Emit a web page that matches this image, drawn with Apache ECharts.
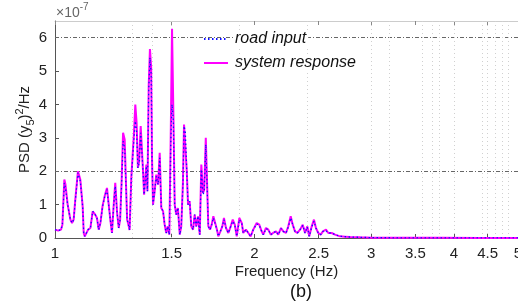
<!DOCTYPE html>
<html>
<head>
<meta charset="utf-8">
<script src="https://cdn.jsdelivr.net/npm/echarts@6/dist/echarts.min.js"></script>
<style>
  html, body { margin: 0; padding: 0; background: #fff; }
  #chart { width: 518px; height: 307px; }
</style>
</head>
<body>
<div id="chart"></div>
<script>
// frequency (Hz) of each sample
var freq = [1.000, 1.011, 1.021, 1.026, 1.033, 1.037, 1.045, 1.055, 1.061, 1.067,
  1.073, 1.083, 1.092, 1.101, 1.105, 1.109, 1.122, 1.131, 1.140, 1.150,
  1.157, 1.164, 1.171, 1.180, 1.189, 1.198, 1.205, 1.212, 1.219, 1.226,
  1.233, 1.241, 1.248, 1.254, 1.260, 1.267, 1.274, 1.280, 1.285, 1.289,
  1.296, 1.304, 1.316, 1.322, 1.328, 1.334, 1.340, 1.347, 1.353, 1.358,
  1.363, 1.369, 1.374, 1.379, 1.385, 1.391, 1.397, 1.401, 1.406, 1.414,
  1.422, 1.431, 1.439, 1.447, 1.456, 1.464, 1.472, 1.480, 1.488, 1.495,
  1.502, 1.509, 1.516, 1.524, 1.533, 1.543, 1.551, 1.560, 1.566, 1.573,
  1.581, 1.588, 1.597, 1.606, 1.616, 1.625, 1.634, 1.644, 1.654, 1.663,
  1.673, 1.680, 1.689, 1.696, 1.704, 1.714, 1.724, 1.734, 1.744, 1.756,
  1.764, 1.777, 1.789, 1.799, 1.812, 1.827, 1.842, 1.855, 1.868, 1.881,
  1.898, 1.914, 1.924, 1.942, 1.958, 1.974, 1.992, 2.016, 2.034, 2.051,
  2.063, 2.082, 2.099, 2.117, 2.134, 2.156, 2.173, 2.194, 2.211, 2.232,
  2.250, 2.269, 2.285, 2.303, 2.322, 2.344, 2.366, 2.385, 2.404, 2.420,
  2.441, 2.460, 2.477, 2.497, 2.518, 2.538, 2.565, 2.586, 2.616, 2.647,
  2.693, 2.740, 2.790, 2.890, 3.010, 3.320, 3.810, 4.380, 5.000];

// system response PSD, x 1e-7
var response = [0.25, 0.22, 0.25, 0.40, 1.75, 1.60, 1.00, 0.55, 0.45, 0.55,
  1.14, 2.00, 1.75, 0.94, 0.15, 0.05, 0.25, 0.30, 0.80, 0.70,
  0.60, 0.25, 0.45, 0.97, 1.27, 1.50, 1.50, 0.55, 0.15, 0.95,
  1.65, 0.75, 0.30, 0.55, 1.60, 3.15, 2.95, 1.60, 0.55, 0.45,
  0.24, 1.85, 3.15, 4.00, 3.45, 2.10, 2.30, 3.35, 3.35, 2.00,
  1.30, 1.80, 2.20, 1.40, 4.55, 5.66, 5.10, 2.40, 1.00, 1.40,
  1.90, 1.60, 2.55, 0.90, 0.80, 0.40, 0.15, 0.35, 0.10, 2.95,
  6.27, 3.75, 1.00, 0.70, 0.90, 0.10, 0.35, 1.65, 3.40, 3.35,
  2.00, 1.00, 1.10, 0.35, 0.25, 0.70, 0.35, 0.65, 0.10, 2.20,
  1.35, 1.45, 3.00, 1.75, 0.35, 0.25, 0.40, 0.65, 0.70, 0.25,
  0.05, 0.20, 0.35, 0.60, 0.30, 0.15, 0.35, 0.55, 0.40, 0.05,
  0.60, 0.45, 0.15, 0.25, 0.15, 0.05, 0.25, 0.45, 0.40, 0.20,
  0.10, 0.30, 0.25, 0.10, 0.15, 0.20, 0.10, 0.30, 0.20, 0.15,
  0.35, 0.65, 0.40, 0.20, 0.15, 0.25, 0.40, 0.15, 0.35, 0.05,
  0.35, 0.55, 0.30, 0.15, 0.10, 0.20, 0.25, 0.15, 0.15, 0.10,
  0.05, 0.04, 0.03, 0.02, 0.01, 0.005, 0.004, 0.003, 0.003];

// road input PSD, x 1e-7
var roadInput = [0.25, 0.22, 0.25, 0.40, 1.65, 1.50, 1.00, 0.55, 0.45, 0.55,
  1.10, 1.95, 1.70, 0.94, 0.15, 0.05, 0.25, 0.30, 0.80, 0.70,
  0.60, 0.25, 0.45, 0.95, 1.25, 1.45, 1.45, 0.55, 0.15, 0.95,
  1.55, 0.75, 0.30, 0.55, 1.50, 2.90, 2.70, 1.55, 0.55, 0.45,
  0.24, 1.80, 3.00, 3.50, 3.20, 2.10, 2.25, 3.15, 3.10, 2.00,
  1.30, 1.75, 2.15, 1.40, 4.40, 5.40, 4.90, 2.40, 1.00, 1.40,
  1.85, 1.60, 2.40, 0.90, 0.80, 0.40, 0.15, 0.35, 0.10, 2.80,
  4.00, 3.50, 1.00, 0.70, 0.90, 0.10, 0.35, 1.60, 3.35, 3.20,
  2.00, 1.00, 1.10, 0.35, 0.25, 0.70, 0.35, 0.65, 0.10, 2.05,
  1.30, 1.40, 2.80, 1.70, 0.35, 0.25, 0.40, 0.60, 0.65, 0.25,
  0.05, 0.20, 0.35, 0.55, 0.30, 0.15, 0.35, 0.50, 0.40, 0.05,
  0.55, 0.45, 0.15, 0.25, 0.15, 0.05, 0.25, 0.42, 0.38, 0.20,
  0.10, 0.28, 0.25, 0.10, 0.15, 0.20, 0.10, 0.28, 0.20, 0.15,
  0.33, 0.60, 0.40, 0.20, 0.15, 0.25, 0.38, 0.15, 0.33, 0.05,
  0.33, 0.50, 0.30, 0.15, 0.10, 0.20, 0.22, 0.15, 0.15, 0.10,
  0.05, 0.04, 0.03, 0.02, 0.01, 0.005, 0.004, 0.003, 0.003];

var xTicks = [1, 1.5, 2, 2.5, 3, 3.5, 4, 4.5, 5];
var hGrid = [2, 6];
var vGrid = [1.307, 1.396, 1.5, 1.896, 2.4, 3.0, 3.2, 3.59, 3.71, 3.8, 4.0, 4.41, 4.5, 4.62, 4.73, 4.83];

function pairs(vals) {
  return freq.map(function (f, i) { return [f, vals[i]]; });
}

var font = '"Liberation Sans", Arial, sans-serif';
var chart = echarts.init(document.getElementById('chart'), null, { renderer: 'canvas' });

var gridLines = hGrid.map(function (v) {
  return { yAxis: v, lineStyle: { color: '#666', type: [4, 2, 1, 2], width: 1 } };
}).concat(vGrid.map(function (f) {
  return { xAxis: f, lineStyle: { color: '#d0d0d0', type: [1, 3], width: 1 } };
}));

var option = {
  animation: false,
  textStyle: { fontFamily: font },
  grid: { left: 55, right: 0, top: 21, bottom: 69, outerBoundsMode: 'none' },
  legend: {
    orient: 'vertical',
    left: 203,
    top: 31,
    itemWidth: 24,
    itemHeight: 10,
    itemGap: 8,
    padding: 0,
    itemStyle: { opacity: 0 },
    textStyle: { fontSize: 16, fontStyle: 'italic', color: '#111', fontFamily: font, backgroundColor: '#fff', padding: [0, 2] },
    data: ['road input', 'system response']
  },
  xAxis: [{
    type: 'log',
    logBase: 10,
    min: 1,
    max: 5,
    name: 'Frequency (Hz)',
    nameLocation: 'middle',
    nameGap: 26,
    nameMoveOverlap: false,
    nameTextStyle: { fontSize: 15, color: '#222' },
    axisLine: { lineStyle: { color: '#555' } },
    axisTick: { inside: true, length: 4, customValues: xTicks, lineStyle: { color: '#555' } },
    axisLabel: { customValues: xTicks, fontSize: 15, color: '#222', margin: 8 },
    splitLine: { show: false },
    minorTick: { show: false }
  }, {
    type: 'log',
    logBase: 10,
    min: 1,
    max: 5,
    position: 'top',
    axisLine: { lineStyle: { color: '#ccc' } },
    axisTick: { inside: true, length: 4, customValues: xTicks, lineStyle: { color: '#888' } },
    axisLabel: { show: false },
    splitLine: { show: false }
  }],
  yAxis: {
    type: 'value',
    min: 0,
    max: 6.5,
    interval: 1,
    name: '{a|PSD (y}{s|5}{a|)}{p|2}{a|/Hz}',
    nameLocation: 'middle',
    nameGap: 19,
    nameMoveOverlap: false,
    nameTextStyle: {
      rich: {
        a: { fontSize: 15, color: '#222', fontFamily: font, lineHeight: 22 },
        s: { fontSize: 11, color: '#222', fontFamily: font, verticalAlign: 'bottom', lineHeight: 22 },
        p: { fontSize: 11, color: '#222', fontFamily: font, verticalAlign: 'top', lineHeight: 22 }
      }
    },
    axisLine: { show: true, lineStyle: { color: '#555' } },
    axisTick: { show: true, inside: true, length: 4, lineStyle: { color: '#555' } },
    axisLabel: { fontSize: 15, color: '#222', margin: 8, showMaxLabel: false },
    splitLine: { show: false }
  },
  series: [{
    name: 'system response',
    type: 'line',
    data: pairs(response),
    symbol: 'none',
    z: 2,
    lineStyle: { color: '#ff00ff', width: 2 },
    itemStyle: { color: '#ff00ff' },
    markLine: {
      silent: true,
      symbol: 'none',
      label: { show: false },
      z: 1,
      data: gridLines
    }
  }, {
    name: 'road input',
    type: 'line',
    data: pairs(roadInput),
    symbol: 'none',
    z: 3,
    lineStyle: { color: '#1010ff', width: 1.3, type: [1.5, 2.5] },
    itemStyle: { color: '#1010ff' }
  }],
  graphic: [{
    type: 'text',
    left: 56,
    top: 2,
    style: {
      text: '{a|×10}{b|-7}',
      rich: {
        a: { fontSize: 14, fill: '#666', fontFamily: font, lineHeight: 18, verticalAlign: 'bottom' },
        b: { fontSize: 10, fill: '#666', fontFamily: font, lineHeight: 18, verticalAlign: 'top' }
      }
    }
  }, {
    type: 'text',
    left: 290,
    top: 283,
    style: { text: '(b)', fontSize: 18, fill: '#111', fontFamily: font }
  }]
};

chart.setOption(option);
</script>
</body>
</html>
